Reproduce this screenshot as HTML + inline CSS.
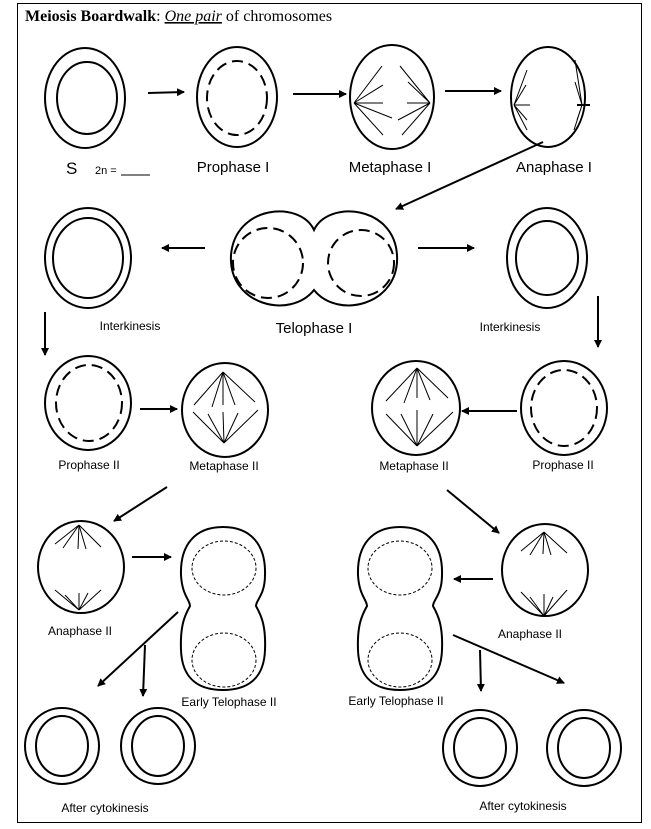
<!DOCTYPE html>
<html><head><style>
html,body{margin:0;padding:0;background:#fff}
svg{display:block}
text{font-family:"Liberation Sans",Arial,sans-serif;fill:#000}
</style></head><body>
<svg width="651" height="829" viewBox="0 0 651 829" xmlns="http://www.w3.org/2000/svg">
<defs><marker id="a" markerWidth="8" markerHeight="8" refX="7" refY="4" orient="auto" markerUnits="userSpaceOnUse"><path d="M0,0 L8,4 L0,8 z" fill="#000"/></marker></defs>
<rect x="17.5" y="3.5" width="624" height="819" fill="none" stroke="#000" stroke-width="1"/>
<text x="25" y="21" font-family="Liberation Serif" style="font-family:'Liberation Serif',serif" font-size="16"><tspan font-weight="bold">Meiosis Boardwalk</tspan>: <tspan font-style="italic" text-decoration="underline">One pair</tspan> of chromosomes</text>
<g fill="none" stroke="#000" stroke-width="2">
<!-- row1 -->
<ellipse cx="85" cy="98" rx="40" ry="50"/><ellipse cx="87" cy="98" rx="30" ry="36"/>
<ellipse cx="237" cy="97" rx="40" ry="50"/><ellipse cx="237" cy="98" rx="30" ry="37" stroke-dasharray="11,6"/>
<ellipse cx="392" cy="97" rx="42" ry="52"/>
<ellipse cx="548" cy="97" rx="37" ry="50"/>
<line x1="148" y1="93" x2="184" y2="92" marker-end="url(#a)"/>
<line x1="293" y1="94" x2="346" y2="94" marker-end="url(#a)"/>
<line x1="445" y1="91" x2="501" y2="91" marker-end="url(#a)"/>
<line x1="543" y1="142" x2="396" y2="209" marker-end="url(#a)"/>
<!-- row2 -->
<ellipse cx="88" cy="258" rx="43" ry="50"/><ellipse cx="88" cy="258" rx="35" ry="40"/>
<path d="M314,230 C300,200 235,205 231,255 C228,305 290,320 314,290 C338,320 400,305 397,255 C394,205 328,200 314,230 Z"/>
<circle cx="268" cy="263" r="35" stroke-dasharray="11,6"/>
<circle cx="361" cy="263" r="33" stroke-dasharray="11,6"/>
<ellipse cx="547" cy="258" rx="40" ry="50"/><ellipse cx="547" cy="258" rx="31" ry="37"/>
<line x1="205" y1="248" x2="162" y2="248" marker-end="url(#a)"/>
<line x1="418" y1="248" x2="474" y2="248" marker-end="url(#a)"/>
<line x1="45" y1="312" x2="45" y2="355" marker-end="url(#a)"/>
<line x1="598" y1="296" x2="598" y2="347" marker-end="url(#a)"/>
<!-- row3 -->
<ellipse cx="88" cy="403" rx="43" ry="47"/><ellipse cx="89" cy="403" rx="33" ry="38" stroke-dasharray="11,6"/>
<ellipse cx="225" cy="410" rx="43" ry="47"/>
<ellipse cx="416" cy="408" rx="44" ry="47"/>
<ellipse cx="564" cy="408" rx="43" ry="47"/><ellipse cx="564" cy="408" rx="33" ry="38" stroke-dasharray="11,6"/>
<line x1="140" y1="409" x2="177" y2="409" marker-end="url(#a)"/>
<line x1="517" y1="411" x2="462" y2="411" marker-end="url(#a)"/>
<line x1="167" y1="487" x2="114" y2="521" marker-end="url(#a)"/>
<line x1="447" y1="490" x2="499" y2="533" marker-end="url(#a)"/>
<!-- row4 -->
<ellipse cx="81" cy="567" rx="43" ry="46"/>
<ellipse cx="545" cy="570" rx="43" ry="46"/>
<path d="M223,527 C195,527 180,545 181,575 C182,595 190,600 190,606 C185,615 180,625 181,650 C182,680 200,690 223,690 C246,690 264,680 265,650 C266,625 261,615 256,606 C256,600 265,595 265,575 C266,545 251,527 223,527 Z"/>
<path d="M400,527 C372,527 357,545 358,575 C359,595 367,600 367,606 C362,615 357,625 358,650 C359,680 377,690 400,690 C423,690 441,680 442,650 C443,625 438,615 433,606 C433,600 442,595 442,575 C443,545 428,527 400,527 Z"/>
<line x1="132" y1="557" x2="171" y2="557" marker-end="url(#a)"/>
<line x1="493" y1="579" x2="454" y2="579" marker-end="url(#a)"/>
<line x1="178" y1="612" x2="98" y2="686" marker-end="url(#a)"/>
<line x1="145" y1="645" x2="143" y2="696" marker-end="url(#a)"/>
<line x1="480" y1="650" x2="481" y2="691" marker-end="url(#a)"/>
<line x1="453" y1="635" x2="564" y2="683" marker-end="url(#a)"/>
<!-- bottom -->
<ellipse cx="62" cy="746" rx="37" ry="38"/><ellipse cx="62" cy="746" rx="26" ry="30"/>
<ellipse cx="158" cy="746" rx="37" ry="38"/><ellipse cx="158" cy="746" rx="26" ry="30"/>
<ellipse cx="480" cy="748" rx="37" ry="38"/><ellipse cx="480" cy="748" rx="26" ry="30"/>
<ellipse cx="584" cy="748" rx="37" ry="38"/><ellipse cx="584" cy="748" rx="26" ry="30"/>
</g>
<g fill="none" stroke="#000" stroke-width="1" stroke-dasharray="3,2">
<ellipse cx="224" cy="568" rx="32" ry="27"/><ellipse cx="224" cy="660" rx="32" ry="27"/>
<ellipse cx="400" cy="568" rx="32" ry="27"/><ellipse cx="400" cy="660" rx="32" ry="27"/>
</g>
<g stroke="#000" stroke-width="1" fill="none">
<!-- metaphase I -->
<path d="M354,103 L382,66 M354,103 L383,85 M354,103 L383,103 M354,103 L392,118 M354,103 L383,135"/>
<path d="M430,103 L400,66 M430,103 L408,82 M430,103 L407,103 M430,103 L398,120 M430,103 L402,135"/>
<!-- anaphase I -->
<path d="M514,105 L527,70 M514,105 L526,85 M514,105 L530,105 M514,105 L527,120 M514,105 L527,130"/>
<path d="M582,105 L575,60 M582,105 L575,82 M582,105 L574,130 M582,105 L577,120"/>
<line x1="577" y1="105" x2="590" y2="105" stroke-width="2"/>
<!-- metaphase II left -->
<path d="M223,372 L194,405 M223,372 L212,407 M223,372 L223,405 M223,372 L235,405 M223,372 L255,402"/>
<path d="M224,443 L193,412 M224,443 L208,414 M224,443 L223,412 M224,443 L238,413 M224,443 L258,410"/>
<!-- metaphase II right -->
<path d="M417,368 L386,401 M417,368 L404,403 M417,368 L417,398 M417,368 L430,400 M417,368 L448,398"/>
<path d="M417,446 L386,414 M417,446 L401,414 M417,446 L417,410 M417,446 L433,414 M417,446 L453,412"/>
<!-- anaphase II left -->
<path d="M79,525 L55,544 M79,525 L63,548 M79,525 L78,549 M79,525 L86,549 M79,525 L101,547"/>
<path d="M79,610 L55,590 M79,610 L65,595 M79,610 L79,593 M79,610 L88,593 M79,610 L101,590"/>
<!-- anaphase II right -->
<path d="M544,532 L521,551 M544,532 L530,555 M544,532 L543,554 M544,532 L551,555 M544,532 L567,553"/>
<path d="M544,616 L521,592 M544,616 L530,597 M544,616 L544,594 M544,616 L553,597 M544,616 L567,590"/>
</g>
<g font-size="15" text-anchor="middle">
<text x="233" y="172">Prophase I</text>
<text x="390" y="172">Metaphase I</text>
<text x="554" y="172">Anaphase I</text>
<text x="314" y="333">Telophase I</text>
</g>
<text x="66" y="174" font-size="17">S</text>
<text x="95" y="174" font-size="11">2n =</text>
<line x1="121" y1="175" x2="150" y2="175" stroke="#000" stroke-width="1"/>
<g font-size="12" text-anchor="middle">
<text x="130" y="330">Interkinesis</text>
<text x="510" y="331">Interkinesis</text>
<text x="89" y="469">Prophase II</text>
<text x="224" y="470">Metaphase II</text>
<text x="414" y="470">Metaphase II</text>
<text x="563" y="469">Prophase II</text>
<text x="80" y="635">Anaphase II</text>
<text x="530" y="638">Anaphase II</text>
<text x="229" y="706">Early Telophase II</text>
<text x="396" y="705">Early Telophase II</text>
<text x="105" y="812">After cytokinesis</text>
<text x="523" y="810">After cytokinesis</text>
</g>
</svg>
</body></html>
